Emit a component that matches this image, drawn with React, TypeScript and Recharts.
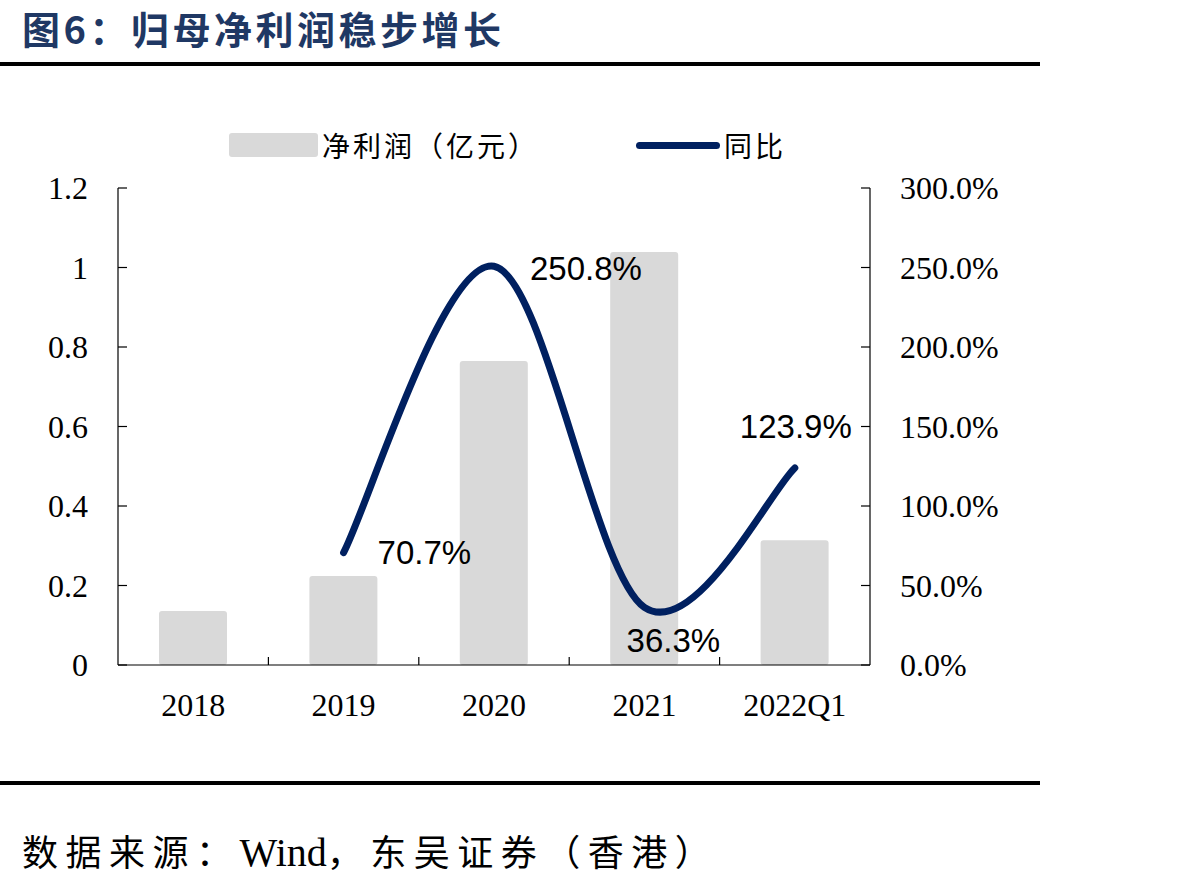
import { Bar, ComposedChart, LabelList, Line, XAxis, YAxis } from "recharts";

const categories = ["2018", "2019", "2020", "2021", "2022Q1"];
const netProfit = [0.136, 0.224, 0.765, 1.039, 0.314]; // 亿元
const yoy: (number | null)[] = [null, 70.7, 250.8, 36.3, 123.9]; // %
const leftTicks = [0, 0.2, 0.4, 0.6, 0.8, 1, 1.2];
const rightTicks = [0, 50, 100, 150, 200, 250, 300];

const NAVY = "#002060";
const GREY = "#d9d9d9";
const SERIF = '"Liberation Serif", "Times New Roman", serif';
const CJK = '"Noto Sans CJK SC", sans-serif';

// plot box
const PLOT_L = 118;
const PLOT_R = 870;
const PLOT_T = 188;
const PLOT_B = 665;
const CHART_W = 1193;
const CHART_H = 886;
const BAND = (PLOT_R - PLOT_L) / categories.length;

// excel style smoothed line (catmull-rom through the points)
const excelSmooth = (context: any) => {
  let pts: [number, number][] = [];
  return {
    areaStart() {},
    areaEnd() {},
    lineStart() {
      pts = [];
    },
    lineEnd() {
      const n = pts.length;
      if (!n) return;
      context.moveTo(pts[0][0], pts[0][1]);
      for (let i = 0; i < n - 1; i++) {
        const p0 = pts[Math.max(i - 1, 0)];
        const p1 = pts[i];
        const p2 = pts[i + 1];
        const p3 = pts[Math.min(i + 2, n - 1)];
        context.bezierCurveTo(
          p1[0] + (p2[0] - p0[0]) / 6,
          p1[1] + (p2[1] - p0[1]) / 6,
          p2[0] - (p3[0] - p1[0]) / 6,
          p2[1] - (p3[1] - p1[1]) / 6,
          p2[0],
          p2[1]
        );
      }
    },
    point(x: number, y: number) {
      pts.push([+x, +y]);
    },
  };
};

const data = categories.map((name, i) => ({
  name,
  profit: netProfit[i],
  yoy: yoy[i],
}));

// where each yoy label sits relative to its point
const labelPos: Record<number, { dx: number; dy: number; anchor: "start" | "middle" }> = {
  1: { dx: 34, dy: 0, anchor: "start" },
  2: { dx: 36, dy: 2, anchor: "start" },
  3: { dx: 29, dy: 33, anchor: "middle" },
  4: { dx: 1, dy: -41, anchor: "middle" },
};

const YoyLabel = (props: any) => {
  const { x, y, value, index } = props;
  if (value == null || !labelPos[index]) return null;
  const p = labelPos[index];
  return (
    <text
      x={x + p.dx}
      y={y + p.dy}
      textAnchor={p.anchor}
      dominantBaseline="central"
      fontFamily='"Liberation Sans", Arial, sans-serif'
      fontSize={33}
      fill="#000"
    >
      {value.toFixed(1)}%
    </text>
  );
};

const LeftTick = (props: any) => {
  const { x, y, payload } = props;
  return (
    <g>
      <line x1={PLOT_L} x2={PLOT_L + 9} y1={y} y2={y} stroke="#000" strokeWidth={1.2} />
      <text x={x} y={y} textAnchor="end" dominantBaseline="central" fontFamily={SERIF} fontSize={32} fill="#000">
        {payload.value}
      </text>
    </g>
  );
};

const RightTick = (props: any) => {
  const { x, y, payload } = props;
  return (
    <g>
      <line x1={PLOT_R - 9} x2={PLOT_R} y1={y} y2={y} stroke="#000" strokeWidth={1.2} />
      <text x={x} y={y} textAnchor="start" dominantBaseline="central" fontFamily={SERIF} fontSize={32} fill="#000">
        {payload.value.toFixed(1)}%
      </text>
    </g>
  );
};

const BottomTick = (props: any) => {
  const { x, y, payload, index } = props;
  return (
    <g>
      {index < categories.length - 1 && (
        <line x1={x + BAND / 2} x2={x + BAND / 2} y1={PLOT_B} y2={PLOT_B - 8} stroke="#000" strokeWidth={1.2} />
      )}
      <text x={x} y={y} textAnchor="middle" dominantBaseline="central" fontFamily={SERIF} fontSize={32} fill="#000">
        {payload.value}
      </text>
    </g>
  );
};

const App = () => {
  return (
    <div style={{ position: "absolute", left: 0, top: 0, width: CHART_W, height: CHART_H, background: "#fff" }}>
      <div
        style={{
          position: "absolute",
          left: 22,
          top: 0,
          fontFamily: CJK,
          fontWeight: 700,
          fontSize: 38,
          lineHeight: "normal",
          letterSpacing: 3.5,
          color: "#1f3864",
          whiteSpace: "nowrap",
        }}
      >
        图6：归母净利润稳步增长
      </div>
      <div style={{ position: "absolute", left: 0, top: 62, width: 1040, height: 4, background: "#000" }} />

      <ComposedChart
        width={CHART_W}
        height={CHART_H}
        data={data}
        margin={{ top: PLOT_T, right: CHART_W - PLOT_R - 150, bottom: CHART_H - PLOT_B - 80, left: 0 }}
        barCategoryGap={0}
        style={{ position: "absolute", left: 0, top: 0 }}
      >
        <XAxis
          dataKey="name"
          height={80}
          axisLine={{ stroke: "#000", strokeWidth: 1.2 }}
          tickLine={false}
          tickSize={0}
          tickMargin={40}
          tick={<BottomTick />}
          interval={0}
        />
        <YAxis
          yAxisId="left"
          width={PLOT_L}
          domain={[0, 1.2]}
          ticks={leftTicks}
          interval={0}
          axisLine={{ stroke: "#000", strokeWidth: 1.2 }}
          tickLine={false}
          tickSize={0}
          tickMargin={30}
          tick={<LeftTick />}
        />
        <YAxis
          yAxisId="right"
          orientation="right"
          width={150}
          domain={[0, 300]}
          ticks={rightTicks}
          interval={0}
          axisLine={{ stroke: "#000", strokeWidth: 1.2 }}
          tickLine={false}
          tickSize={0}
          tickMargin={30}
          tick={<RightTick />}
        />
        <Bar yAxisId="left" dataKey="profit" barSize={68} fill={GREY} radius={3} isAnimationActive={false} />
        <Line
          yAxisId="right"
          dataKey="yoy"
          type={excelSmooth as any}
          stroke={NAVY}
          strokeWidth={7}
          strokeLinecap="round"
          dot={false}
          activeDot={false}
          isAnimationActive={false}
        >
          <LabelList dataKey="yoy" content={<YoyLabel />} />
        </Line>
      </ComposedChart>

      {/* legend */}
      <div
        style={{
          position: "absolute",
          left: 229,
          top: 124,
          height: 42,
          display: "flex",
          alignItems: "center",
          fontFamily: CJK,
          fontSize: 28,
          color: "#000",
          whiteSpace: "nowrap",
        }}
      >
        <span style={{ width: 89, height: 24, background: GREY, borderRadius: 3, marginRight: 4 }} />
        <span style={{ letterSpacing: 3 }}>净利润（亿元）</span>
        <span style={{ width: 84, height: 7, background: NAVY, borderRadius: 4, marginLeft: 97, marginRight: 4 }} />
        <span style={{ letterSpacing: 3 }}>同比</span>
      </div>

      <div style={{ position: "absolute", left: 0, top: 781, width: 1040, height: 4, background: "#000" }} />
      <div
        style={{
          position: "absolute",
          left: 22,
          top: 826,
          fontFamily: CJK,
          fontSize: 36,
          lineHeight: "48px",
          color: "#000",
          whiteSpace: "nowrap",
          letterSpacing: 7.5,
        }}
      >
        数据来源：<span style={{ fontFamily: SERIF, letterSpacing: 0, fontSize: 40 }}>Wind</span>，东吴证券（香港）
      </div>
    </div>
  );
};

export default App;
